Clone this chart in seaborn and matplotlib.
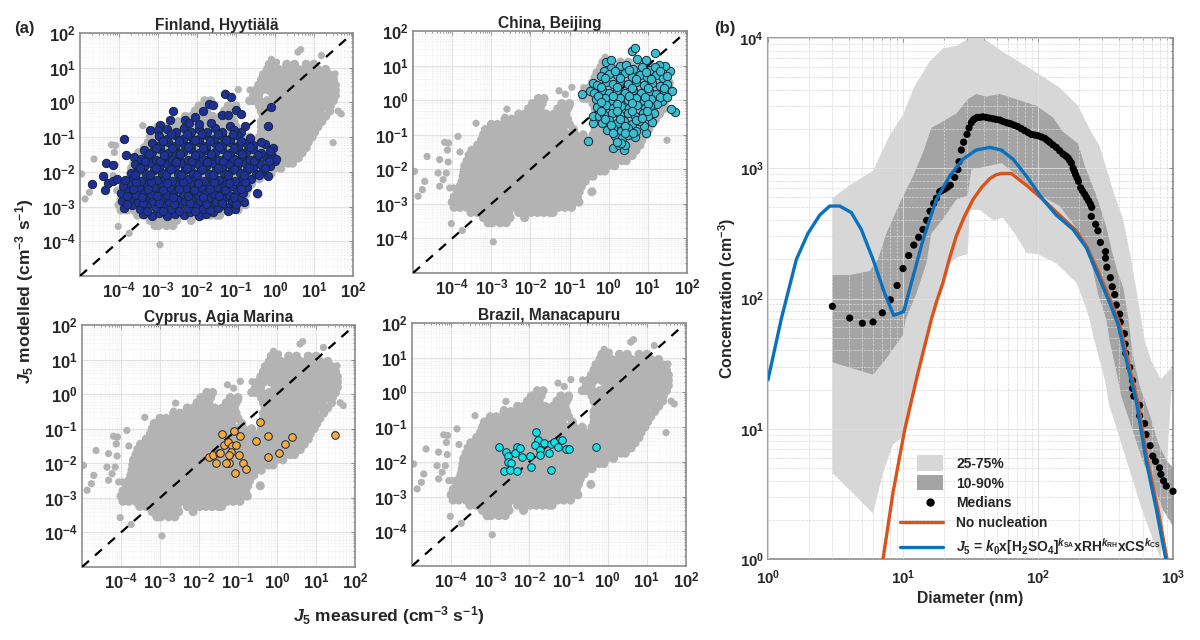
import numpy as np
import pandas as pd
import matplotlib
matplotlib.use("Agg")
import matplotlib.pyplot as plt
import seaborn as sns
from matplotlib.legend_handler import HandlerPatch
from matplotlib.patches import Circle, Patch, Rectangle
from matplotlib.lines import Line2D
from matplotlib.ticker import LogLocator, LogFormatterMathtext, NullFormatter

# all values below are log10 of what the axes show

# grey cloud, one x list per y level
grey_levels = [-3.55, -3.4, -3.25, -3.1, -2.95, -2.8, -2.65, -2.5, -2.35, -2.2, -2.05, -1.9, -1.75, -1.6, -1.45, -1.3,
               -1.15, -1.0, -0.85, -0.7, -0.55, -0.4, -0.25, -0.1, 0.05, 0.2, 0.35, 0.5, 0.65, 0.8, 0.95, 1.1]
grey_rows = [
    [-3.08, -2.98, -2.78, -2.62],
    [-3.2, -3.02, -2.86, -2.68, -2.52, -2.15],
    [-3.52, -3.36, -3.2, -3.04, -2.88, -2.72, -2.56, -2.3, -2.14, -1.98, -1.82, -1.66, -1.5, -1.42],
    [-3.95, -3.8, -3.62, -3.46, -3.28, -3.12, -2.96, -2.8, -2.64, -2.46, -2.3, -2.14, -1.96, -1.8, -1.62, -1.46, -1.28, -1.12, -0.95],
    [-4.0, -3.86, -3.7, -3.54, -3.38, -3.2, -3.04, -2.88, -2.72, -2.54, -2.38, -2.22, -2.04, -1.88, -1.72, -1.54, -1.38, -1.2, -1.04, -0.88, -0.76],
    [-3.95, -3.78, -3.62, -3.46, -3.28, -3.12, -2.96, -2.8, -2.64, -2.46, -2.3, -2.14, -1.96, -1.8, -1.62, -1.46, -1.28, -1.12, -0.96, -0.8],
    [-3.85, -3.7, -3.54, -3.38, -3.2, -3.04, -2.88, -2.72, -2.54, -2.38, -2.22, -2.04, -1.88, -1.72, -1.54, -1.38, -1.2, -1.04, -0.88, -0.75, -0.43],
    [-3.8, -3.62, -3.46, -3.28, -3.12, -2.96, -2.8, -2.64, -2.46, -2.3, -2.14, -1.96, -1.8, -1.62, -1.46, -1.28, -1.12, -0.96, -0.8, -0.7],
    [-3.75, -3.58, -3.42, -3.24, -3.08, -2.92, -2.74, -2.58, -2.42, -2.24, -2.08, -1.92, -1.74, -1.58, -1.42, -1.24, -1.08, -0.92, -0.74, -0.6],
    [-3.72, -3.54, -3.38, -3.2, -3.04, -2.88, -2.72, -2.54, -2.38, -2.22, -2.04, -1.88, -1.72, -1.54, -1.38, -1.2, -1.04, -0.88, -0.7, -0.54, -0.4],
    [-3.7, -3.56, -3.4, -3.22, -3.06, -2.9, -2.72, -2.56, -2.4, -2.22, -2.06, -1.9, -1.72, -1.56, -1.4, -1.22, -1.06, -0.9, -0.72, -0.56, -0.38, -0.22, -0.1],
    [-3.68, -3.52, -3.36, -3.18, -3.02, -2.86, -2.68, -2.52, -2.36, -2.18, -2.02, -1.86, -1.68, -1.52, -1.36, -1.18, -1.02, -0.86, -0.68, -0.52, -0.36, -0.18, -0.02, 0.15],
    [-3.62, -3.46, -3.3, -3.12, -2.96, -2.8, -2.62, -2.46, -2.3, -2.12, -1.96, -1.8, -1.62, -1.46, -1.3, -1.12, -0.96, -0.8, -0.62, -0.46, -0.3, -0.12, 0.04, 0.2, 0.34, 0.45],
    [-3.55, -3.38, -3.22, -3.06, -2.88, -2.72, -2.56, -2.38, -2.22, -2.06, -1.88, -1.72, -1.56, -1.38, -1.22, -1.06, -0.88, -0.72, -0.56, -0.38, -0.22, -0.06, 0.12, 0.28, 0.44, 0.6],
    [-3.5, -3.34, -3.16, -3.0, -2.84, -2.66, -2.5, -2.34, -2.16, -2.0, -1.84, -1.66, -1.5, -1.34, -1.16, -1.0, -0.84, -0.66, -0.5, -0.34, -0.16, 0.0, 0.16, 0.34, 0.5, 0.62, 0.7],
    [-3.35, -3.2, -3.04, -2.88, -2.7, -2.54, -2.38, -2.2, -2.04, -1.88, -1.7, -1.54, -1.38, -1.2, -1.04, -0.88, -0.7, -0.54, -0.38, -0.2, -0.04, 0.12, 0.3, 0.46, 0.62, 0.8],
    [-3.25, -3.1, -2.94, -2.76, -2.6, -2.44, -2.26, -2.1, -1.94, -1.76, -1.6, -1.44, -1.26, -1.1, -0.94, -0.76, -0.6, -0.44, -0.26, -0.1, 0.06, 0.24, 0.4, 0.56, 0.74, 0.85],
    [-3.2, -3.04, -2.86, -2.7, -2.54, -2.36, -2.2, -2.04, -1.86, -1.7, -1.54, -1.36, -1.2, -1.04, -0.86, -0.65, -0.4, -0.24, -0.08, 0.1, 0.26, 0.42, 0.6, 0.76, 0.95],
    [-3.15, -2.98, -2.82, -2.66, -2.48, -2.32, -2.16, -1.98, -1.82, -1.66, -1.48, -1.32, -1.16, -0.9, -0.35, -0.18, -0.02, 0.16, 0.32, 0.48, 0.66, 0.82, 1.02],
    [-3.0, -2.84, -2.68, -2.5, -2.34, -2.18, -2.0, -1.84, -1.68, -1.5, -1.34, -1.18, -1.0, -0.35, -0.2, -0.04, 0.14, 0.3, 0.46, 0.64, 0.8, 0.96, 1.1],
    [-2.65, -2.48, -2.32, -2.16, -1.98, -1.82, -1.66, -1.48, -1.32, -1.2, -1.05, -0.35, -0.18, -0.02, 0.16, 0.32, 0.48, 0.66, 0.82, 0.98, 1.2],
    [-2.3, -2.14, -1.96, -1.8, -1.6, -1.4, -1.24, -1.1, -0.3, -0.14, 0.02, 0.2, 0.36, 0.52, 0.7, 0.86, 1.02, 1.2, 1.3],
    [-2.05, -1.9, -1.75, -1.3, -1.15, -1.05, -0.35, -0.16, 0.0, 0.16, 0.34, 0.5, 0.66, 0.84, 1.0, 1.16, 1.4],
    [-1.95, -1.8, -1.7, -1.2, -1.0, -0.4, -0.24, -0.06, 0.1, 0.26, 0.44, 0.6, 0.76, 0.94, 1.1, 1.26, 1.42],
    [-1.8, -1.65, -0.65, -0.55, -0.4, -0.2, 0.0, 0.18, 0.34, 0.5, 0.68, 0.84, 1.0, 1.18, 1.34, 1.5],
    [-0.55, -0.42, -0.05, 0.1, 0.26, 0.44, 0.6, 0.76, 0.94, 1.1, 1.26, 1.44, 1.55],
    [-0.5, -0.34, -0.16, 0.0, 0.18, 0.34, 0.5, 0.68, 0.84, 1.0, 1.18, 1.34, 1.55],
    [-0.42, -0.26, -0.1, 0.08, 0.24, 0.4, 0.58, 0.74, 0.9, 1.08, 1.24, 1.4, 1.55],
    [-0.35, -0.18, -0.02, 0.14, 0.32, 0.48, 0.64, 0.82, 0.98, 1.14, 1.32, 1.5],
    [-0.3, -0.14, 0.04, 0.2, 0.36, 0.54, 0.7, 0.86, 1.04, 1.2, 1.4],
    [-0.2, -0.06, 0.1, 0.26, 0.42, 0.6, 0.76, 0.92, 1.1, 1.3],
    [-0.15, 0.0, 0.3, 0.5, 0.8, 1.0],
]
grey_extra_x = [-4.96, -4.87, -4.76, -4.7, -4.64, -4.36, -4.32, -4.32, -4.23, -4.1, -4.15, -4.06, -3.96, -4.19, -4.09,
                -4.12, -3.85, -3.8, -3.59, -3.39, -4.02, -3.74, -2.95, 1.49, 0.59, 0.66, 1.19, 1.54, 1.7, 1.62, -0.09,
                0.04, -2.6, -2.65, -1.67, -1.8, -1.27, -1.11, -0.94, -0.64, -0.99]
grey_extra_y = [-2.06, -2.78, -2.59, -2.35, -1.63, -2.11, -1.72, -2.49, -2.3, -1.79, -2.11, -2.54, -2.54, -1.22, -1.24,
                -1.44, -1.05, -1.5, -1.58, -0.67, -3.57, -3.77, -4.1, -1.16, 1.45, 1.52, 1.35, 0.82, -0.33, -0.25, 1.24,
                1.16, -0.26, -0.49, 0.0, -0.04, 0.27, 0.17, 0.37, 0.36, -0.18]

finland_pts = [
    (-4.7, -2.36), (-4.4, -2.11), (-4.36, -2.52), (-4.33, -1.75), (-4.15, -1.8), (-4.27, -2.31), (-4.16, -2.25),
    (-4.06, -2.2), (-3.87, -1.05), (-3.82, -1.51), (-3.61, -1.56), (-3.55, -1.82), (-3.21, -0.79), (-2.95, -0.66),
    (-2.99, -0.79), (-2.69, -0.52), (-2.61, -0.26), (-2.31, -0.5), (-2.05, -0.42), (-1.84, -0.26), (-1.69, -0.04),
    (-1.58, -0.07), (-1.28, 0.24), (-1.13, 0.17), (-1.37, -0.36), (-1.2, -0.36), (-1.0, -0.21), (-0.86, -0.33),
    (-1.16, -0.67), (-0.77, -0.69), (-0.09, -0.12), (-0.18, -0.69), (-0.86, -0.84), (-0.46, -2.62), (-0.79, -2.86),
    (0.0, -1.68), (-0.17, -2.13), (-0.22, -1.56), (-0.26, -1.19), (-0.05, -1.32),
    (-3.38, -3.2), (-3.16, -3.26), (-2.97, -3.18), (-2.78, -3.27), (-2.56, -3.2), (-2.34, -3.24), (-2.17, -3.16),
    (-1.95, -3.27), (-1.76, -3.21), (-1.58, -3.17),
    (-3.88, -3.04), (-3.66, -2.96), (-3.47, -3.07), (-3.28, -2.99), (-3.05, -3.04), (-2.86, -2.95), (-2.66, -3.07),
    (-2.45, -2.98), (-2.24, -3.05), (-2.03, -2.96), (-1.85, -3.06), (-1.64, -2.97), (-1.45, -3.04), (-1.24, -3.0),
    (-1.02, -3.06), (-3.92, -2.83), (-3.71, -2.77), (-3.52, -2.87), (-3.33, -2.76), (-3.12, -2.84), (-2.93, -2.75),
    (-2.72, -2.86), (-2.52, -2.78), (-2.31, -2.85), (-2.12, -2.74), (-1.92, -2.84), (-1.71, -2.77), (-1.52, -2.87),
    (-1.31, -2.76), (-1.11, -2.83), (-0.92, -2.74),
    (-3.95, -2.62), (-3.76, -2.56), (-3.57, -2.66), (-3.38, -2.55), (-3.17, -2.64), (-2.98, -2.57), (-2.77, -2.67),
    (-2.58, -2.55), (-2.37, -2.63), (-2.16, -2.56), (-1.97, -2.66), (-1.78, -2.55), (-1.57, -2.63), (-1.38, -2.57),
    (-1.17, -2.66), (-0.98, -2.55), (-0.82, -2.62),
    (-3.9, -2.42), (-3.69, -2.35), (-3.5, -2.45), (-3.29, -2.36), (-3.1, -2.44), (-2.9, -2.34), (-2.69, -2.44),
    (-2.5, -2.36), (-2.29, -2.46), (-2.1, -2.35), (-1.89, -2.43), (-1.7, -2.37), (-1.49, -2.45), (-1.3, -2.34),
    (-1.09, -2.42), (-0.9, -2.36), (-0.71, -2.44),
    (-3.84, -2.23), (-3.63, -2.15), (-3.44, -2.25), (-3.24, -2.14), (-3.03, -2.24), (-2.84, -2.16), (-2.63, -2.26),
    (-2.44, -2.15), (-2.23, -2.22), (-2.04, -2.14), (-1.83, -2.25), (-1.64, -2.16), (-1.43, -2.23), (-1.24, -2.15),
    (-1.03, -2.25), (-0.84, -2.14), (-0.62, -2.22),
    (-3.7, -2.03), (-3.51, -1.95), (-3.3, -2.05), (-3.11, -1.96), (-2.9, -2.04), (-2.71, -1.95), (-2.5, -2.05),
    (-2.31, -1.96), (-2.1, -2.03), (-1.91, -1.95), (-1.7, -2.05), (-1.51, -1.96), (-1.3, -2.04), (-1.11, -1.94),
    (-0.9, -2.03), (-0.71, -1.96), (-0.5, -2.05), (-0.31, -1.95),
    (-3.58, -1.76), (-3.37, -1.84), (-3.18, -1.75), (-2.97, -1.85), (-2.78, -1.76), (-2.57, -1.84), (-2.38, -1.74),
    (-2.17, -1.85), (-1.98, -1.76), (-1.77, -1.84), (-1.58, -1.75), (-1.37, -1.86), (-1.18, -1.76), (-0.97, -1.84),
    (-0.78, -1.74), (-0.57, -1.85), (-0.38, -1.76), (-0.13, -1.83),
    (-3.44, -1.64), (-3.25, -1.55), (-3.04, -1.65), (-2.85, -1.56), (-2.64, -1.64), (-2.45, -1.54), (-2.24, -1.65),
    (-2.05, -1.56), (-1.84, -1.64), (-1.65, -1.55), (-1.44, -1.66), (-1.25, -1.56), (-1.04, -1.64), (-0.85, -1.54),
    (-0.64, -1.65), (-0.45, -1.56), (-0.08, -1.55), (0.03, -1.62),
    (-3.36, -1.36), (-3.15, -1.44), (-2.96, -1.35), (-2.75, -1.45), (-2.56, -1.36), (-2.35, -1.44), (-2.16, -1.34),
    (-1.95, -1.45), (-1.76, -1.36), (-1.55, -1.44), (-1.36, -1.35), (-1.15, -1.46), (-0.96, -1.36), (-0.75, -1.44),
    (-0.56, -1.34), (-0.35, -1.45), (-0.14, -1.4),
    (-3.15, -1.16), (-2.96, -1.24), (-2.75, -1.15), (-2.56, -1.25), (-2.35, -1.16), (-2.16, -1.24), (-1.95, -1.14),
    (-1.76, -1.25), (-1.55, -1.16), (-1.36, -1.24), (-1.15, -1.15), (-0.96, -1.26), (-0.75, -1.16), (-0.56, -1.22),
    (-0.36, -1.15),
    (-2.98, -0.96), (-2.76, -1.04), (-2.57, -0.95), (-2.36, -1.05), (-2.17, -0.96), (-1.96, -1.04), (-1.77, -0.95),
    (-1.56, -1.05), (-1.37, -0.96), (-1.16, -1.04), (-0.97, -0.95), (-0.65, -1.02),
    (-2.78, -0.76), (-2.55, -0.84), (-2.34, -0.75), (-2.15, -0.85), (-1.94, -0.76), (-1.75, -0.84), (-1.54, -0.75),
    (-1.35, -0.85), (-1.05, -0.8), (-2.2, -0.6), (-1.95, -0.62), (-1.65, -0.58),
    (-3.27, -3.12), (-2.87, -3.12), (-2.45, -3.14), (-2.05, -3.12), (-1.66, -3.1), (-1.2, -3.12), (-3.8, -2.93),
    (-3.38, -2.9), (-2.98, -2.9), (-2.58, -2.92), (-2.18, -2.9), (-1.76, -2.92), (-1.36, -2.9), (-1.0, -2.92),
    (-3.8, -2.7), (-3.42, -2.72), (-3.03, -2.7), (-2.62, -2.73), (-2.22, -2.7), (-1.84, -2.72), (-1.43, -2.7),
    (-1.04, -2.72), (-3.64, -2.5), (-3.26, -2.5), (-2.86, -2.52), (-2.47, -2.5), (-2.07, -2.52), (-1.67, -2.5),
    (-1.27, -2.52), (-0.88, -2.5), (-3.56, -2.3), (-3.18, -2.3), (-2.78, -2.32), (-2.37, -2.3), (-1.98, -2.32),
    (-1.57, -2.3), (-1.18, -2.32), (-0.78, -2.3), (-3.6, -2.08), (-3.2, -2.1), (-2.8, -2.1), (-2.4, -2.08),
    (-2.0, -2.1), (-1.6, -2.08), (-1.2, -2.1), (-0.8, -2.1), (-0.4, -2.08), (-3.46, -1.9), (-3.06, -1.9), (-2.66, -1.92),
    (-2.26, -1.9), (-1.86, -1.92), (-1.46, -1.9), (-1.06, -1.92), (-0.66, -1.9), (-0.25, -1.9), (-3.34, -1.7),
    (-2.94, -1.7), (-2.54, -1.72), (-2.14, -1.7), (-1.74, -1.72), (-1.34, -1.7), (-0.94, -1.72), (-0.54, -1.7),
    (-0.15, -1.7), (-3.24, -1.48), (-2.84, -1.5), (-2.44, -1.48), (-2.04, -1.5), (-1.64, -1.48), (-1.24, -1.5),
    (-0.84, -1.48), (-0.44, -1.5), (-3.04, -1.3), (-2.64, -1.3), (-2.24, -1.28), (-1.84, -1.3), (-1.44, -1.28),
    (-1.04, -1.3), (-0.64, -1.28), (-2.86, -1.1), (-2.46, -1.1), (-2.06, -1.08), (-1.66, -1.1), (-1.26, -1.08),
    (-0.86, -1.1), (-2.66, -0.9), (-2.26, -0.9), (-1.86, -0.9), (-1.46, -0.9), (-1.08, -0.9),
]
beijing_pts = [
    (-0.52, -1.19), (-0.67, 0.17), (-0.07, 1.11), (0.06, 1.16), (0.59, 1.43), (0.66, 1.52), (1.19, 1.35), (1.56, 0.83),
    (1.45, 0.99), (1.28, 1.02), (0.94, 1.16), (0.72, 1.18), (1.7, -0.33), (1.59, -0.25), (1.62, 0.25), (1.36, -0.02),
    (1.23, -0.11), (-0.39, 0.49), (-0.47, 0.25), (-0.39, -0.67), (-0.39, -0.47), (-0.26, -0.47), (-0.18, -0.28),
    (0.12, -1.39), (0.25, -1.29), (0.38, -1.44), (0.42, -1.29), (0.68, -1.07), (0.94, -0.95), (0.89, -0.76),
    (1.11, -0.62), (1.15, -0.38),
    (0.05, 0.92), (0.28, 0.98), (0.44, 1.02), (0.62, 0.9), (0.85, 0.95), (1.05, 0.88), (1.18, 0.96), (-0.12, 0.84),
    (-0.2, 0.7), (0.02, 0.76), (0.22, 0.72), (0.42, 0.78), (0.6, 0.68), (0.8, 0.74), (0.98, 0.66), (1.2, 0.72),
    (1.38, 0.64), (-0.3, 0.45), (-0.08, 0.52), (0.12, 0.46), (0.3, 0.55), (0.5, 0.47), (0.7, 0.52), (0.9, 0.44),
    (1.1, 0.5), (1.3, 0.42), (1.5, 0.48), (-0.38, 0.22), (-0.18, 0.28), (0.02, 0.2), (0.22, 0.3), (0.42, 0.22),
    (0.62, 0.28), (0.82, 0.2), (1.02, 0.26), (1.22, 0.18), (1.42, 0.24), (-0.33, 0.02), (-0.1, 0.06), (0.1, -0.02),
    (0.3, 0.06), (0.5, 0.0), (0.7, 0.05), (0.9, -0.03), (1.08, 0.04), (-0.3, -0.2), (-0.08, -0.15), (0.12, -0.24),
    (0.32, -0.16), (0.52, -0.22), (0.72, -0.14), (0.92, -0.24), (1.06, -0.16), (-0.12, -0.42), (0.08, -0.36),
    (0.28, -0.44), (0.48, -0.38), (0.68, -0.46), (0.88, -0.36), (1.0, -0.46), (-0.18, -0.66), (0.0, -0.58),
    (0.2, -0.66), (0.4, -0.6), (0.6, -0.68), (0.78, -0.6), (-0.05, -0.86), (0.12, -0.8), (0.32, -0.88), (0.5, -0.82),
    (0.7, -0.88), (0.15, -1.05), (0.33, -1.1), (0.5, -1.02), (0.32, -1.25), (0.22, -1.2),
    (0.15, 0.85), (0.52, 0.86), (0.95, 0.82), (1.3, 0.85), (-0.1, 0.64), (0.3, 0.63), (0.7, 0.62), (1.08, 0.6),
    (1.48, 0.7), (-0.2, 0.38), (0.2, 0.38), (0.6, 0.36), (1.0, 0.36), (1.4, 0.36), (-0.28, 0.12), (0.12, 0.12),
    (0.52, 0.12), (0.92, 0.1), (1.3, 0.1), (-0.2, -0.06), (0.2, -0.1), (0.6, -0.08), (1.0, -0.1), (1.5, 0.1),
    (-0.2, -0.32), (0.2, -0.3), (0.6, -0.3), (0.98, -0.32), (-0.1, -0.55), (0.3, -0.54), (0.7, -0.56), (0.05, -0.72),
    (0.42, -0.74), (0.85, -0.52), (0.1, -0.96), (0.42, -0.96), (0.62, -0.94),
]
cyprus_x = [-1.75, -1.64, -1.5, -1.47, -1.56, -1.4, -1.36, -1.26, -1.09, -0.95, -1.15, -1.06, -1.17, -1.24, -1.23, -1.3,
            -0.98, -0.87, -0.79, -1.08, -0.54, -0.43, -0.23, -0.23, 0.05, 0.21, 0.38, 1.48]
cyprus_y = [-1.83, -1.76, -1.7, -1.7, -2.0, -1.16, -1.46, -1.38, -1.06, -1.2, -1.5, -1.47, -1.67, -1.76, -1.99, -1.99,
            -1.75, -1.99, -2.17, -2.27, -1.36, -0.82, -1.2, -1.83, -1.69, -1.43, -1.25, -1.17]
brazil_x = [-2.78, -2.61, -2.54, -2.54, -2.48, -2.66, -2.5, -2.33, -2.33, -2.36, -2.23, -2.19, -1.99, -1.97, -1.84,
            -1.78, -1.85, -1.72, -1.73, -1.63, -1.5, -1.44, -1.45, -1.38, -1.27, -1.18, -1.07, -0.98, -0.31]
brazil_y = [-1.56, -1.71, -1.83, -1.99, -2.04, -2.25, -2.23, -2.25, -1.56, -1.75, -1.61, -1.87, -1.83, -2.14, -1.15,
            -1.37, -1.51, -1.66, -1.8, -1.46, -1.75, -1.48, -2.23, -1.44, -1.57, -1.37, -1.62, -1.63, -1.57]

# panel b
median_d = [0.477, 0.605, 0.699, 0.778, 0.847, 0.906, 0.956, 1.0, 1.042, 1.08, 1.116, 1.148, 1.175, 1.2, 1.227, 1.247,
            1.272, 1.29, 1.309, 1.33, 1.35, 1.383, 1.407, 1.415, 1.432, 1.449, 1.474, 1.489, 1.506, 1.52, 1.531, 1.55,
            1.568, 1.59, 1.617, 1.64, 1.667, 1.69, 1.716, 1.74, 1.765, 1.785, 1.8, 1.825, 1.85, 1.875, 1.9, 1.925, 1.95,
            1.975, 2.0, 2.025, 2.05, 2.068, 2.086, 2.11, 2.136, 2.16, 2.185, 2.205, 2.222, 2.235, 2.247, 2.26, 2.27,
            2.279, 2.29, 2.3, 2.316, 2.33, 2.346, 2.36, 2.375, 2.388, 2.398, 2.395, 2.427, 2.444, 2.462, 2.5, 2.5, 2.51,
            2.536, 2.55, 2.568, 2.58, 2.605, 2.61, 2.64, 2.645, 2.65, 2.68, 2.7, 2.7, 2.71, 2.753, 2.753, 2.79, 2.8,
            2.83, 2.85, 2.87, 2.9, 2.91, 2.93, 2.95, 3.0]
median_n = [1.94, 1.85, 1.81, 1.82, 1.89, 1.99, 2.1, 2.23, 2.33, 2.41, 2.47, 2.53, 2.6, 2.67, 2.73, 2.77, 2.82, 2.83,
            2.84, 2.855, 2.87, 2.93, 2.99, 3.05, 3.14, 3.2, 3.26, 3.31, 3.35, 3.37, 3.38, 3.39, 3.39, 3.395, 3.39, 3.385,
            3.38, 3.375, 3.37, 3.36, 3.35, 3.345, 3.34, 3.33, 3.32, 3.305, 3.29, 3.275, 3.26, 3.255, 3.25, 3.24, 3.23,
            3.215, 3.2, 3.18, 3.16, 3.135, 3.11, 3.095, 3.08, 3.06, 3.04, 3.0, 2.975, 2.95, 2.925, 2.9, 2.85, 2.825, 2.8,
            2.775, 2.75, 2.725, 2.7, 2.63, 2.57, 2.52, 2.43, 2.36, 2.31, 2.24, 2.16, 2.09, 2.03, 1.95, 1.88, 1.82, 1.73,
            1.65, 1.58, 1.47, 1.37, 1.31, 1.25, 1.18, 1.1, 1.04, 0.955, 0.87, 0.79, 0.75, 0.7, 0.65, 0.6, 0.56, 0.52]
light_up_d = [0.477, 0.605, 0.778, 0.9, 1.0, 1.086, 1.198, 1.296, 1.395, 1.494, 1.605, 1.716, 1.84, 2.01, 2.16, 2.296,
              2.383, 2.457, 2.568, 2.63, 2.69, 2.74, 2.79, 2.84, 2.91, 3.0]
light_up_n = [2.77, 2.87, 2.98, 3.25, 3.41, 3.63, 3.82, 3.92, 3.94, 4.0, 3.99, 3.91, 3.83, 3.72, 3.62, 3.48, 3.3, 3.17,
              2.79, 2.61, 2.3, 2.0, 1.68, 1.52, 1.38, 1.48]
light_lo_d = [0.477, 0.605, 0.778, 0.852, 0.926, 1.0, 1.05, 1.1, 1.2, 1.27, 1.346, 1.407, 1.48, 1.494, 1.568, 1.667,
              1.74, 1.84, 1.914, 2.0, 2.136, 2.284, 2.333, 2.383, 2.41, 2.494, 2.53, 2.593, 2.654, 2.7, 2.77, 2.87, 2.91]
light_lo_n = [0.66, 0.53, 0.35, 0.66, 0.88, 0.94, 1.12, 1.4, 1.84, 2.04, 2.27, 2.32, 2.34, 2.68, 2.68, 2.6, 2.62, 2.48,
              2.35, 2.34, 2.27, 2.12, 1.99, 1.84, 1.71, 1.38, 1.17, 0.97, 0.76, 0.61, 0.38, 0.1, 0.0]
dark_up_d = [0.477, 0.605, 0.753, 0.815, 0.877, 0.975, 1.074, 1.148, 1.21, 1.296, 1.395, 1.48, 1.543, 1.617, 1.716, 1.84,
             1.988, 2.11, 2.185, 2.296, 2.346, 2.432, 2.506, 2.543, 2.59, 2.63, 2.667, 2.7, 2.753, 2.83, 2.89, 2.95, 3.0]
dark_up_n = [2.18, 2.18, 2.21, 2.3, 2.5, 2.73, 2.94, 3.12, 3.31, 3.36, 3.42, 3.53, 3.57, 3.55, 3.57, 3.53, 3.48, 3.39,
             3.28, 3.19, 3.02, 2.79, 2.55, 2.38, 2.2, 2.09, 1.86, 1.58, 1.33, 1.1, 0.89, 0.76, 0.7]
dark_lo_d = [0.477, 0.778, 0.877, 1.0, 1.02, 1.1, 1.173, 1.21, 1.296, 1.395, 1.48, 1.506, 1.69, 1.73, 1.79, 1.914, 2.037,
             2.16, 2.284, 2.346, 2.407, 2.444, 2.506, 2.53, 2.568, 2.617, 2.7, 2.78, 2.85, 2.925, 3.0]
dark_lo_n = [1.51, 1.415, 1.54, 1.72, 1.84, 2.04, 2.27, 2.5, 2.61, 2.76, 2.79, 2.99, 3.03, 3.04, 2.99, 2.89, 2.78, 2.71,
             2.54, 2.4, 2.22, 2.04, 1.84, 1.68, 1.5, 1.25, 0.99, 0.74, 0.58, 0.38, 0.25]
blue_d = [0.0, 0.1, 0.21, 0.296, 0.383, 0.457, 0.531, 0.617, 0.691, 0.778, 0.864, 0.931, 1.005, 1.062, 1.148, 1.247, 1.346,
          1.444, 1.543, 1.642, 1.728, 1.815, 1.914, 2.037, 2.136, 2.26, 2.358, 2.444, 2.53, 2.593, 2.642, 2.73, 2.8,
          2.877, 2.946]
blue_n = [1.377, 1.85, 2.3, 2.5, 2.64, 2.71, 2.71, 2.66, 2.53, 2.3, 2.04, 1.87, 1.9, 2.12, 2.45, 2.76, 2.94, 3.07, 3.14,
          3.16, 3.14, 3.07, 2.94, 2.76, 2.64, 2.53, 2.39, 2.18, 1.97, 1.8, 1.58, 1.2, 0.76, 0.38, 0.0]
red_d = [0.852, 0.926, 1.012, 1.111, 1.21, 1.25, 1.296, 1.345, 1.395, 1.455, 1.519, 1.58, 1.642, 1.69, 1.728, 1.802,
         1.914, 2.037, 2.16, 2.284, 2.365, 2.457, 2.543, 2.605, 2.654, 2.74, 2.81, 2.889, 2.955]
red_n = [0.0, 0.51, 0.99, 1.43, 1.84, 1.98, 2.12, 2.31, 2.48, 2.63, 2.76, 2.85, 2.92, 2.95, 2.96, 2.96, 2.87, 2.76, 2.64,
         2.52, 2.39, 2.18, 1.97, 1.8, 1.58, 1.2, 0.76, 0.38, 0.0]

sns.set_theme(style="white")
plt.rcParams["font.family"] = ["Liberation Sans", "DejaVu Sans"]
plt.rcParams["font.weight"] = "bold"
plt.rcParams["mathtext.fontset"] = "custom"
plt.rcParams["mathtext.rm"] = "Liberation Sans:bold"
plt.rcParams["mathtext.bf"] = "Liberation Sans:bold"
plt.rcParams["mathtext.it"] = "Liberation Sans:italic:bold"
plt.rcParams["mathtext.default"] = "regular"
TXT = "#262626"

W, H = 1200, 640
fig = plt.figure(figsize=(12, 6.4), dpi=100)


def add_ax(left, top, right, bottom):
    return fig.add_axes([left / W, 1 - bottom / H, (right - left) / W, (bottom - top) / H])


def log_axis(ax, lo_x, hi_x, lo_y, hi_y, size):
    ax.set_xscale("log")
    ax.set_yscale("log")
    ax.set_xlim(lo_x, hi_x)
    ax.set_ylim(lo_y, hi_y)
    for axis in (ax.xaxis, ax.yaxis):
        axis.set_major_locator(LogLocator(base=10, numticks=12))
        axis.set_minor_locator(LogLocator(base=10, subs=range(2, 10), numticks=12))
        axis.set_major_formatter(LogFormatterMathtext())
        axis.set_minor_formatter(NullFormatter())
    ax.tick_params(which="both", direction="in", top=True, right=True, color="#7f7f7f", width=0.6,
                   labelsize=size, labelcolor=TXT, pad=3)
    ax.tick_params(which="major", length=3)
    ax.tick_params(which="minor", length=1.5)
    ax.grid(which="major", color="#e2e2e2", lw=0.8, ls="-")
    ax.grid(which="minor", color="#dcdcdc", lw=0.4, ls=":")
    for s in ax.spines.values():
        s.set_color("#8c8c8c")
        s.set_linewidth(1.2)


grey = pd.DataFrame({"x": np.power(10.0, [x for row in grey_rows for x in row]),
                     "y": np.power(10.0, [lev for lev, row in zip(grey_levels, grey_rows) for _ in row])})
grey_extra = pd.DataFrame({"x": np.power(10.0, grey_extra_x), "y": np.power(10.0, grey_extra_y)})

diag = [1e-5, 70]
panels = [
    ("Finland, Hyytiälä", (80, 33, 353, 276), [p[0] for p in finland_pts], [p[1] for p in finland_pts], "#1f2f96", 36),
    ("China, Beijing", (413, 31, 687, 273), [p[0] for p in beijing_pts], [p[1] for p in beijing_pts], "#3dbccb", 36),
    ("Cyprus, Agia Marina", (82, 325, 355, 567), cyprus_x, cyprus_y, "#f6a93f", 30),
    ("Brazil, Manacapuru", (412, 323, 686, 566), brazil_x, brazil_y, "#12e4e6", 30),
]

for title, box, site_x, site_y, col, size in panels:
    ax = add_ax(*box)
    sns.scatterplot(data=grey, x="x", y="y", ax=ax, s=42, color="#b3b3b3", edgecolor="none", linewidth=0, zorder=2)
    sns.scatterplot(data=grey_extra, x="x", y="y", ax=ax, s=27, color="#b3b3b3", edgecolor="none", linewidth=0, zorder=2)
    ax.plot(diag, diag, color="black", lw=1.6, dashes=(4.2, 3.6), zorder=3)
    sns.scatterplot(x=np.power(10.0, site_x), y=np.power(10.0, site_y), ax=ax, s=size, color=col, edgecolor="#14283c",
                    linewidth=0.7, zorder=4)
    log_axis(ax, 1e-5, 1e2, 1e-5, 1e2, 12)
    ax.set_xticks([10.0 ** e for e in range(-4, 3)])
    ax.set_yticks([10.0 ** e for e in range(-4, 3)])
    ax.set_xlabel("")
    ax.set_ylabel("")
    ax.set_title(title, fontsize=11.2, fontweight="bold", color=TXT, pad=2)

fig.text(14 / W, 1 - 28 / H, "(a)", fontsize=12, color=TXT, va="center")
fig.text(714 / W, 1 - 29 / H, "(b)", fontsize=12, color=TXT, va="center")
fig.text(25 / W, 1 - 291 / H, r"$\mathit{J}_5$ modelled (cm$^{-3}$ s$^{-1}$)", fontsize=12.6, color=TXT,
         rotation=90, ha="center", va="center")
fig.text(389 / W, 1 - 616 / H, r"$\mathit{J}_5$ measured (cm$^{-3}$ s$^{-1}$)", fontsize=12.6, color=TXT,
         ha="center", va="center")

# panel b
axb = add_ax(768, 38, 1173, 559)
LIGHT, DARK = "#d7d7d7", "#a4a4a4"
BLUE, RED = "#0a72bd", "#d9531a"
light_poly_x = np.power(10.0, light_up_d + light_lo_d[::-1])
light_poly_y = np.power(10.0, light_up_n + light_lo_n[::-1])
dark_poly_x = np.power(10.0, dark_up_d + dark_lo_d[::-1])
dark_poly_y = np.power(10.0, dark_up_n + dark_lo_n[::-1])
axb.fill(light_poly_x, light_poly_y, color=LIGHT, lw=0, zorder=1)
axb.fill(dark_poly_x, dark_poly_y, color=DARK, lw=0, zorder=1.2)
sns.scatterplot(x=np.power(10.0, median_d), y=np.power(10.0, median_n), ax=axb, s=27, color="black", edgecolor="none",
                linewidth=0, zorder=3, clip_on=False)
sns.lineplot(x=np.power(10.0, red_d), y=np.power(10.0, red_n), ax=axb, color=RED, lw=2.4, sort=False, estimator=None,
             zorder=3.2)
sns.lineplot(x=np.power(10.0, blue_d), y=np.power(10.0, blue_n), ax=axb, color=BLUE, lw=2.4, sort=False, estimator=None,
             zorder=3.4)
log_axis(axb, 1, 1000, 1, 1e4, 10.8)
axb.tick_params(axis="x", pad=7)
axb.set_axisbelow(False)
axb.grid(which="major", color="#e0e0e0", lw=0.6, ls="-")
axb.grid(which="minor", color="#d8d8d8", lw=0.5, ls="--")
axb.set_xlabel("Diameter (nm)", fontsize=11.3, fontweight="bold", color=TXT, labelpad=3)
axb.set_ylabel("Concentration (cm$^{-3}$)", fontsize=11.5, fontweight="bold", color=TXT, labelpad=1)


def band_key(legend, orig_handle, xdescent, ydescent, width, height, fontsize):
    # shaded keys only fill the right part of the key slot
    return Rectangle((width * 0.4 - xdescent, -ydescent - 2), width * 0.6, height + 4)


def dot_key(legend, orig_handle, xdescent, ydescent, width, height, fontsize):
    return Circle((width * 0.71 - xdescent, height / 2 - ydescent), 3.0)


h_light = Patch(facecolor=LIGHT, edgecolor="none")
h_dark = Patch(facecolor=DARK, edgecolor="none")
h_dot = Patch(facecolor="black", edgecolor="none")
h_red = Line2D([], [], color=RED, lw=2.4)
h_blue = Line2D([], [], color=BLUE, lw=2.4)
labels = ["25-75%", "10-90%", "Medians", "No nucleation",
          r"$\mathit{J}_5$ = $\mathit{k}_0$x[H$_2$SO$_4$]$^{\mathit{k}_{SA}}$xRH$^{\mathit{k}_{RH}}$xCS$^{\mathit{k}_{CS}}$"]
axb.legend([h_light, h_dark, h_dot, h_red, h_blue], labels, loc="lower left",
           bbox_to_anchor=(900 / W, 1 - 557 / H), bbox_transform=fig.transFigure, frameon=False, fontsize=10,
           labelcolor=TXT, handlelength=3.1, handletextpad=0.95, labelspacing=0.42, borderpad=0, borderaxespad=0,
           handler_map={h_light: HandlerPatch(patch_func=band_key), h_dark: HandlerPatch(patch_func=band_key),
                        h_dot: HandlerPatch(patch_func=dot_key)})

fig.savefig("out.png", dpi=100)
